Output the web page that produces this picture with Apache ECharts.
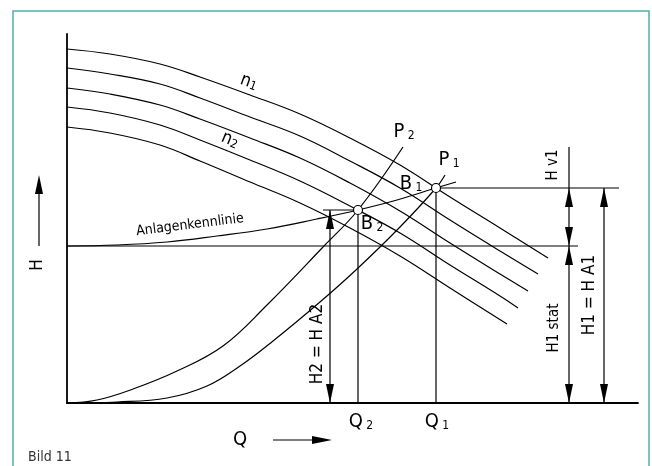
<!DOCTYPE html>
<html>
<head>
<meta charset="utf-8">
<script src="https://cdn.jsdelivr.net/npm/echarts@6/dist/echarts.min.js"></script>
<style>
  html, body { margin: 0; padding: 0; background: #fff; }
  #chart { width: 652px; height: 466px; }
</style>
</head>
<body>
<div id="chart"></div>
<script>
// pump curves for five speeds, [Q, H], top one is n1, fourth one is n2
const pumpN1 = [[0, 354], [43, 349], [93, 339], [133, 326], [183, 308], [233, 289], [283, 265], [333, 238], [383, 206], [433, 175], [481, 145]];
const pumpB = [[0, 335], [43, 329], [93, 319], [133, 305], [183, 286], [233, 267], [283, 242], [333, 215], [383, 183], [433, 152], [471, 129]];
const pumpC = [[0, 315], [43, 309], [93, 298], [133, 284], [183, 265], [233, 245], [283, 220], [333, 192], [383, 160], [433, 129], [461, 112]];
const pumpN2 = [[0, 296], [43, 290], [93, 278], [133, 263], [183, 243], [233, 222], [283, 197], [333, 170], [383, 138], [433, 107], [451, 95]];
const pumpE = [[0, 276], [43, 270], [93, 258], [133, 242], [183, 221], [233, 200], [283, 175], [333, 147], [383, 115], [440, 79]];

// Anlagenkennlinie and the two parabolas P1 / P2
const systemCurve = [[0, 157], [50, 158], [100, 161], [150, 167], [200, 174], [250, 184], [291, 193], [330, 203], [369, 215], [389, 221]];
const curveP1 = [[0, 0], [50, 1], [100, 5], [140, 17], [173, 37], [206, 62], [253, 101], [290, 134], [333, 176], [369, 215], [378, 228]];
const curveP2 = [[0, 0], [30, 3], [66, 14], [110, 32], [156, 57], [200, 98], [257, 157], [291, 193], [336, 256]];

// operating points
const pointB1 = [369, 215];
const pointB2 = [291, 193];

// reference values
const Q1 = 369, Q2 = 291;
const HA1 = 215, HA2 = 193, Hstat = 157;
const qHA2 = 263, qHv1 = 502, qHA1 = 537;
const hv1Top = 256;
const qMax = 571, hMax = 369;

const FONT = '"Liberation Sans Narrow", "DejaVu Sans Condensed", "Liberation Sans", sans-serif';
const INK = '#000';

// straight construction lines
const guides = [
  [[0, Hstat], [511, Hstat]],
  [[Q1, HA1], [552, HA1]],
  [[Q1, 0], [Q1, HA1]],
  [[Q2, 0], [Q2, HA2]],
  [[qHA2, 0], [qHA2, HA2]],
  [[256, HA2], [Q2, HA2]],
  [[qHv1, 0], [qHv1, hv1Top]],
  [[qHA1, 0], [qHA1, HA1]]
];

// arrow heads: [Q, H, direction] 1 = up, -1 = down
const arrowHeads = [
  [qHv1, HA1, 1], [qHv1, Hstat, -1], [qHv1, Hstat, 1], [qHv1, 0, -1],
  [qHA1, HA1, 1], [qHA1, 0, -1],
  [qHA2, HA2, 1], [qHA2, 0, -1]
];

// labels: [Q, H, rotation deg]
const labelTexts = [
  '{n|n}{s|1}', '{n|n}{s|2}', '{b|P}{s| 2}', '{b|P}{s| 1}', '{b|B}{s| 1}', '{b|B}{s| 2}',
  '{t|Anlagenkennlinie}', '{m|H v1}', '{m|H1 stat}', '{l|H1 = H A1}', '{l|H2 = H A2}',
  '{b|Q}{s| 2}', '{b|Q}{s| 1}'
];
const labelSpots = [
  [182, 321, -20], [163, 263, -22], [337, 271, 0], [382, 243, 0], [344, 219, 0], [305, 179, 0],
  [123, 178, 7], [486, 238, 90], [487, 75, 90], [523, 108, 90], [251, 59, 90],
  [294, -19, 0], [370, -19, 0]
];

const RICH = {
  n: { fontFamily: FONT, fontSize: 18, fill: INK },
  b: { fontFamily: FONT, fontSize: 20, fill: INK },
  s: { fontFamily: FONT, fontSize: 12, fill: INK, verticalAlign: 'bottom' },
  t: { fontFamily: FONT, fontSize: 14, fill: INK },
  m: { fontFamily: FONT, fontSize: 15, fill: INK },
  l: { fontFamily: FONT, fontSize: 17, fill: INK }
};

function curveSeries(data, smooth) {
  return {
    type: 'line', data: data, smooth: smooth, showSymbol: false, silent: true,
    lineStyle: { color: INK, width: 1.2 }, z: 2
  };
}

const series = [pumpN1, pumpB, pumpC, pumpN2, pumpE].map(d => curveSeries(d, 0.4));
series.push(curveSeries(systemCurve, 0.4));
series.push(curveSeries(curveP1, 0.4));
series.push(curveSeries(curveP2, 0.4));
guides.forEach(g => series.push(curveSeries(g, false)));

series.push({
  type: 'custom', data: arrowHeads, clip: false, silent: true, z: 4,
  renderItem: function (params, api) {
    const p = api.coord([api.value(0), api.value(1)]);
    const d = api.value(2);
    const len = 19, half = 4;
    return {
      type: 'polygon',
      shape: { points: [[p[0], p[1]], [p[0] - half, p[1] + d * len], [p[0] + half, p[1] + d * len]] },
      style: { fill: INK }
    };
  }
});

series.push({
  type: 'scatter', data: [pointB1, pointB2], symbol: 'circle', symbolSize: 9, silent: true, z: 5,
  itemStyle: { color: '#fff', borderColor: INK, borderWidth: 1.2, opacity: 1 }
});

series.push({
  type: 'custom', data: labelSpots, clip: false, silent: true, z: 6,
  renderItem: function (params, api) {
    const p = api.coord([api.value(0), api.value(1)]);
    return {
      type: 'text', x: p[0], y: p[1], rotation: api.value(2) * Math.PI / 180,
      style: {
        text: labelTexts[params.dataIndex], rich: RICH, fill: INK,
        fontFamily: FONT, fontSize: 14, align: 'center', verticalAlign: 'middle'
      }
    };
  }
});

const chart = echarts.init(document.getElementById('chart'));
chart.setOption({
  animation: false,
  backgroundColor: '#fff',
  grid: { left: 67, top: 34, width: 571, height: 369 },
  xAxis: {
    type: 'value', min: 0, max: qMax,
    axisLine: { lineStyle: { color: INK, width: 1.8 } },
    axisTick: { show: false }, axisLabel: { show: false }, splitLine: { show: false }
  },
  yAxis: {
    type: 'value', min: 0, max: hMax,
    axisLine: { show: true, lineStyle: { color: INK, width: 1.8 } },
    axisTick: { show: false }, axisLabel: { show: false }, splitLine: { show: false }
  },
  graphic: [
    { type: 'rect', shape: { x: 13, y: 11, width: 636, height: 470 }, style: { fill: 'none', stroke: '#4fb0ab', lineWidth: 1.5 }, silent: true },
    { type: 'line', shape: { x1: 39, y1: 246, x2: 39, y2: 192 }, style: { stroke: INK, lineWidth: 1.2 } },
    { type: 'polygon', shape: { points: [[39, 175], [35, 194], [43, 194]] }, style: { fill: INK } },
    { type: 'text', x: 38, y: 265, rotation: Math.PI / 2, style: { text: 'H', fontFamily: FONT, fontSize: 17, fill: INK, align: 'center', verticalAlign: 'middle' } },
    { type: 'text', x: 240, y: 440, style: { text: 'Q', fontFamily: FONT, fontSize: 20, fill: INK, align: 'center', verticalAlign: 'middle' } },
    { type: 'line', shape: { x1: 273, y1: 440, x2: 314, y2: 440 }, style: { stroke: INK, lineWidth: 1.2 } },
    { type: 'polygon', shape: { points: [[332, 440], [312, 436], [312, 444]] }, style: { fill: INK } },
    { type: 'text', x: 28, y: 457, style: { text: 'Bild 11', fontFamily: FONT, fontSize: 14, fill: '#333', align: 'left', verticalAlign: 'middle' } }
  ],
  series: series
});
</script>
</body>
</html>
